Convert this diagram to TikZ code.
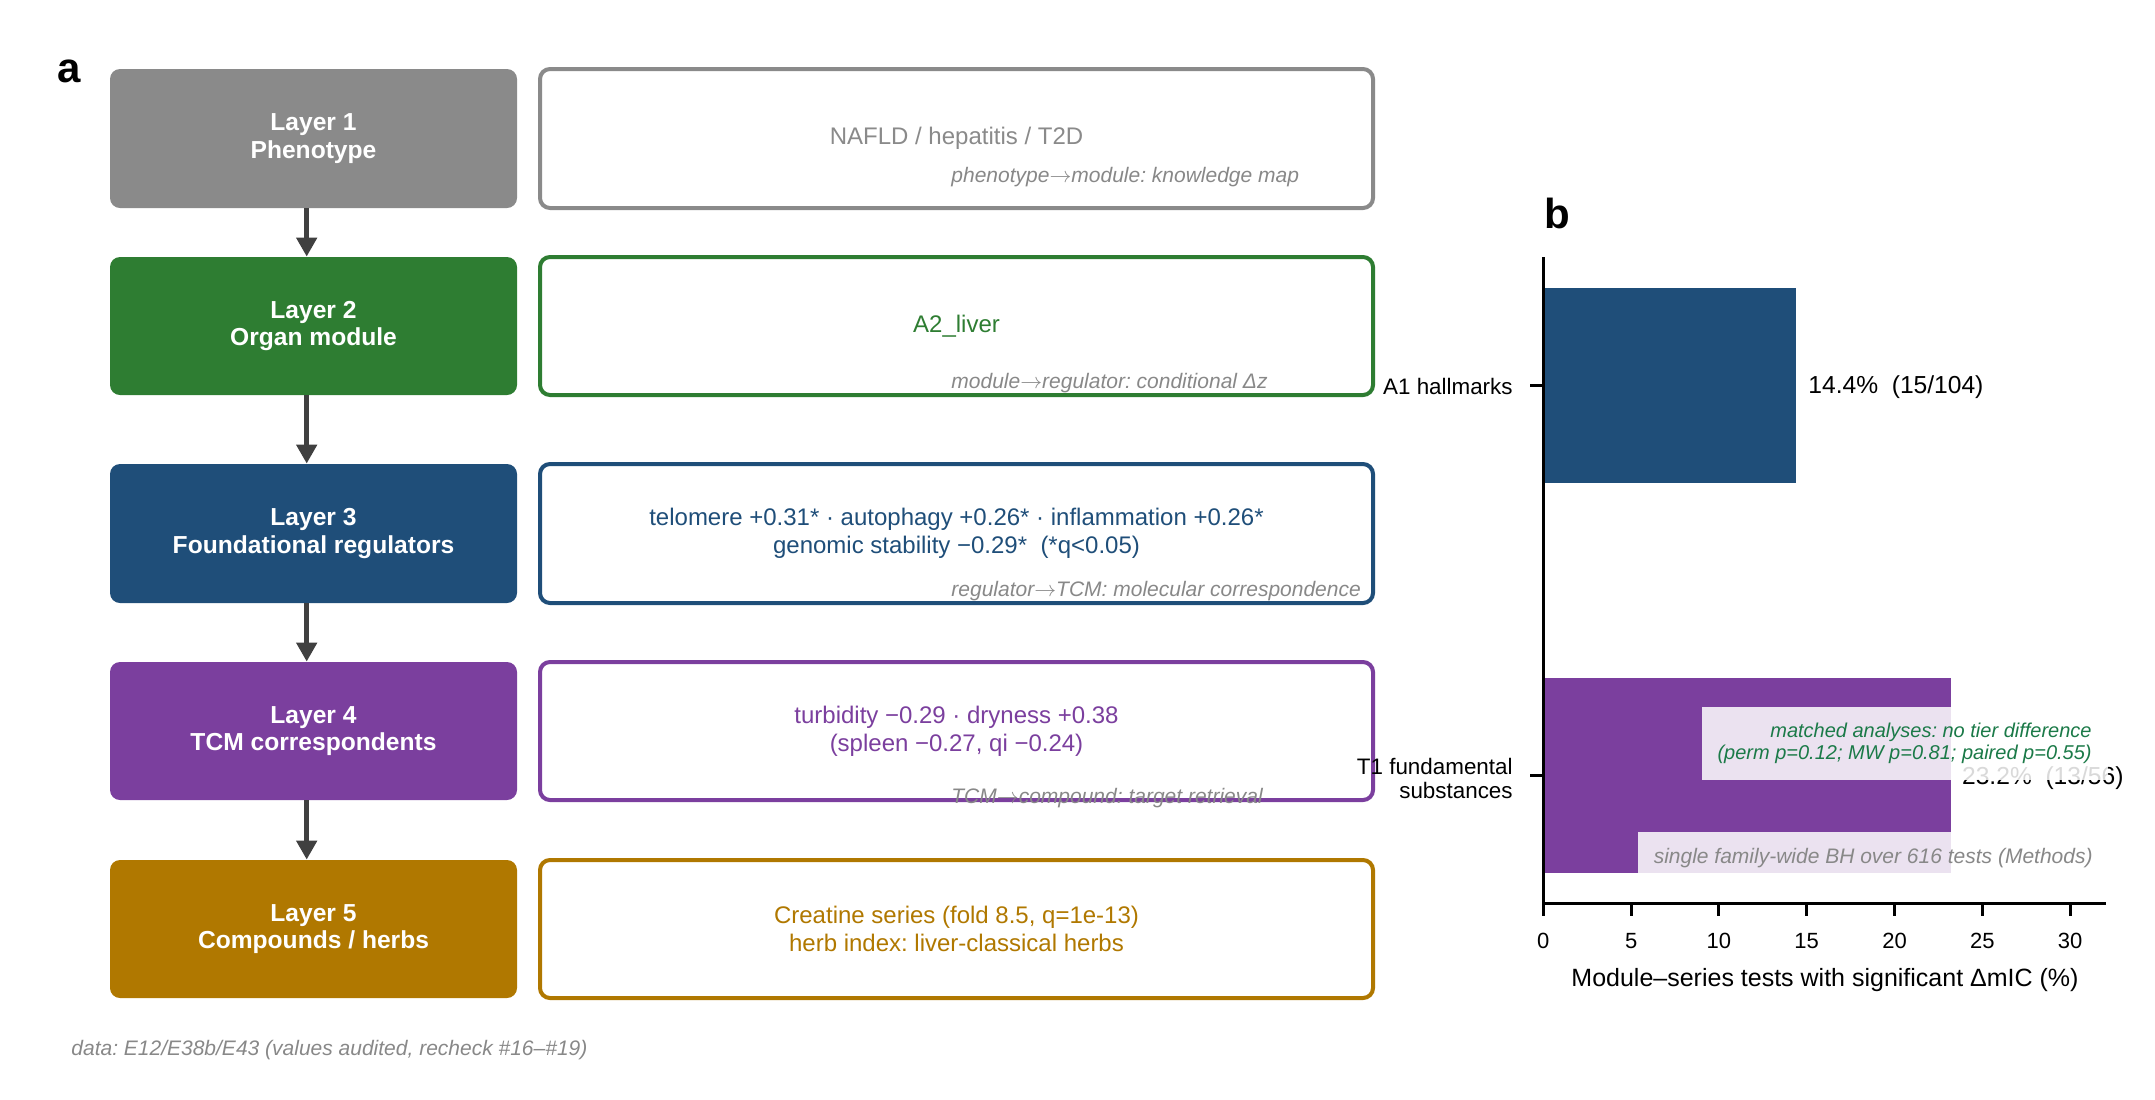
\documentclass[tikz,border=0pt]{standalone}
\usepackage{fontspec}
\setmainfont{Liberation Sans}
\usetikzlibrary{arrows.meta}
\definecolor{cgray}{HTML}{8A8A8A}
\definecolor{cgreen}{HTML}{2E7D32}
\definecolor{cblue}{HTML}{1F4E79}
\definecolor{cpurple}{HTML}{7B3F9E}
\definecolor{cgold}{HTML}{B07800}
\definecolor{carrow}{HTML}{404040}
\definecolor{cnote}{HTML}{888888}
\definecolor{cstat}{HTML}{1B7A48}
\newcommand{\lto}{\ensuremath{\rightarrow}}
\frenchspacing
\begin{document}
\begin{tikzpicture}[x=0.5pt,y=-0.5pt,
  layerbox/.style={rectangle, rounded corners=5pt, minimum width=203.5pt, inner sep=0pt,
    text=white, font=\bfseries\fontsize{12.3}{13.6}\selectfont, align=center},
  contentbox/.style={rectangle, rounded corners=5pt, draw, line width=2pt, minimum width=416.5pt,
    inner sep=0pt, font=\fontsize{12}{14}\selectfont, align=center},
  annot/.style={font=\itshape\fontsize{10.5}{12}\selectfont, text=cnote, anchor=base west, inner sep=0pt},
  flowarrow/.style={draw=carrow, line width=2.5pt, -{Triangle[width=10pt,length=9.5pt]}},
  panellabel/.style={font=\bfseries\fontsize{21}{24}\selectfont, anchor=base west, inner sep=0pt},
  ticklab/.style={font=\fontsize{11.2}{12}\selectfont, inner sep=0pt},
  axisline/.style={line width=1.5pt, black},
  statbox/.style={anchor=north east, fill=white, fill opacity=0.85, text opacity=1, inner sep=8pt, align=right}
]
\path[use as bounding box] (0,0) rectangle (2155,1099);

% panel labels
\node[panellabel] (pa) at (57,82) {a};
\node[panellabel] (pb) at (1544,228) {b};

% layer boxes
\node[layerbox, fill=cgray, minimum height=69.5pt] (L1) at (313.5,138.5) {Layer 1\\Phenotype};
\node[layerbox, fill=cgreen, minimum height=69pt] (L2) at (313.5,326) {Layer 2\\Organ module};
\node[layerbox, fill=cblue, minimum height=69.5pt] (L3) at (313.5,533.5) {Layer 3\\Foundational regulators};
\node[layerbox, fill=cpurple, minimum height=69pt] (L4) at (313.5,731) {Layer 4\\TCM correspondents};
\node[layerbox, fill=cgold, minimum height=69pt] (L5) at (313.5,929) {Layer 5\\Compounds / herbs};

% content boxes
\node[contentbox, draw=cgray, text=cgray, minimum height=69.5pt] (C1) at (956.5,138.5) {NAFLD / hepatitis / T2D};
\node[contentbox, draw=cgreen, text=cgreen, minimum height=69pt] (C2) at (956.5,326) {A2\_liver};
\node[contentbox, draw=cblue, text=cblue, minimum height=69.5pt] (C3) at (956.5,533.5)
  {telomere +0.31* · autophagy +0.26* · inflammation +0.26*\\genomic stability −0.29*\ \ (*q<0.05)};
\node[contentbox, draw=cpurple, text=cpurple, minimum height=69pt] (C4) at (956.5,731)
  {turbidity −0.29 · dryness +0.38\\(spleen −0.27, qi −0.24)};
\node[contentbox, draw=cgold, text=cgold, minimum height=69pt] (C5) at (956.5,929)
  {Creatine series (fold 8.5, q=1e-13)\\herb index: liver-classical herbs};

% annotations between layers
\node[annot] (A1) at (951,182) {phenotype\lto module: knowledge map};
\node[annot] (A2) at (951,388) {module\lto regulator: conditional Δz};
\node[annot] (A3) at (951,596) {regulator\lto TCM: molecular correspondence};
\node[annot] (A4) at (951,803) {TCM\lto compound: target retrieval};

% arrows
\draw[flowarrow] ([xshift=-3.4pt]L1.south) -- ([xshift=-3.4pt]L2.north);
\draw[flowarrow] ([xshift=-3.4pt]L2.south) -- ([xshift=-3.4pt]L3.north);
\draw[flowarrow] ([xshift=-3.4pt]L3.south) -- ([xshift=-3.4pt]L4.north);
\draw[flowarrow] ([xshift=-3.4pt]L4.south) -- ([xshift=-3.4pt]L5.north);

% footer
\node[annot] (foot) at (71,1055) {data: E12/E38b/E43 (values audited, recheck \#16–\#19)};

% ---------- panel b ----------
\fill[cblue] (1543.3,287.7) rectangle (1796.2,482.7);
\fill[cpurple] (1543.3,677.7) rectangle (1950.7,872.7);

\draw[axisline] (1543.3,257) -- (1543.3,903) -- (2106,903);
\draw[axisline] (1530,385.2) -- (1543.3,385.2);
\draw[axisline] (1530,775.2) -- (1543.3,775.2);
\foreach \v in {0,5,...,30}{
  \draw[axisline] ({1543.3+17.56*\v},903) -- ({1543.3+17.56*\v},916);
  \node[ticklab, anchor=base, font=\fontsize{11}{12}\selectfont] (xt\v) at ({1543.3+17.56*\v},948.5) {\v};
}
\node[ticklab, anchor=east] (ya1) at (1513,386) {A1 hallmarks};
\node[ticklab, anchor=east, align=right] (yt1) at (1513,778) {T1 fundamental\\substances};
\node[font=\fontsize{12.5}{14}\selectfont, anchor=base, inner sep=0pt] (xlab) at (1825,986)
  {Module–series tests with significant ΔmIC (\%)};

\node[font=\fontsize{12.3}{14}\selectfont, anchor=base west, inner sep=0pt] (v1) at (1808,393.5) {14.4\%\ \ (15/104)};
\node[font=\fontsize{12.3}{14}\selectfont, anchor=base west, inner sep=0pt] (v2) at (1961.7,784.5) {23.2\%\ \ (13/56)};

\node[statbox, text=cstat, font=\itshape\fontsize{10}{10.75}\selectfont] (N1) at (2108,707)
  {matched analyses: no tier difference\\(perm p=0.12; MW p=0.81; paired p=0.55)};
\node[statbox, text=cnote, font=\itshape\fontsize{10.5}{12}\selectfont] (N2) at (2109,831.7)
  {single family-wide BH over 616 tests (Methods)};
\end{tikzpicture}
\end{document}
